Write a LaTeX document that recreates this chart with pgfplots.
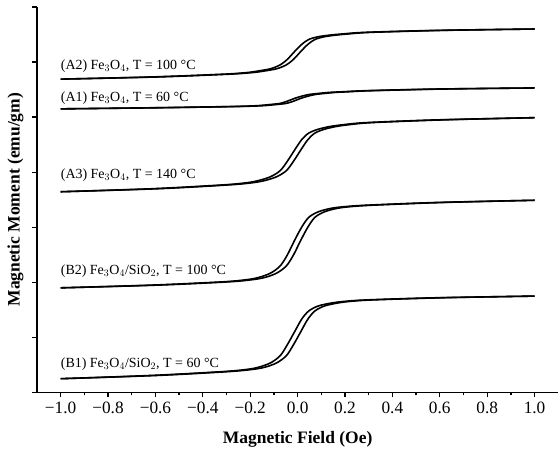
\documentclass[border=0pt]{standalone}
\usepackage{pgfplots}
\pgfplotsset{compat=1.18}
\usepackage{pgfplotstable}
\usepackage{fontspec}
\setmainfont{Liberation Serif}

\pgfplotstableread{
x      xu     xd     A2    A1    A3     B2    B1
-1.0  -1.0   -1.0    5.69  5.15  3.645  1.90  0.25
-0.6  -0.588 -0.612  5.73  5.17  3.70   1.95  0.31
-0.3  -0.288 -0.312  5.78  5.19  3.77   2.01  0.38
-0.2  -0.188 -0.212  5.81  5.20  3.81   2.05  0.42
-0.15 -0.137 -0.163  5.84  5.21  3.85   2.09  0.46
-0.1  -0.087 -0.113  5.88  5.23  3.92   2.17  0.54
-0.06 -0.047 -0.073  5.95  5.25  4.03   2.30  0.67
-0.03 -0.017 -0.043  6.05  5.29  4.20   2.50  0.87
0.0    0.013 -0.013  6.19  5.34  4.40   2.76  1.10
0.03   0.043  0.017  6.32  5.38  4.59   3.00  1.33
0.06   0.073  0.047  6.41  5.41  4.71   3.18  1.48
0.1    0.113  0.087  6.46  5.43  4.78   3.28  1.57
0.15   0.163  0.137  6.49  5.45  4.83   3.34  1.62
0.2    0.212  0.188  6.51  5.46  4.86   3.37  1.65
0.3    0.312  0.288  6.54  5.48  4.90   3.40  1.68
0.6    0.612  0.588  6.575 5.51  4.95   3.45  1.72
1.0    1.0    1.0    6.60  5.53  4.99   3.49  1.75
}\data

\tikzset{hyst/.style={black, solid, line width=1.6pt, smooth, tension=0.5, mark=none}}

\begin{document}
\begin{tikzpicture}
\begin{axis}[
  name=ax,
  scale only axis,
  width=522pt, height=386pt,
  xmin=-1.1, xmax=1.1,
  ymin=0, ymax=7,
  axis lines*=left,
  axis line style={line width=1.5pt},
  tick align=outside,
  tick style={black, line width=1.3pt},
  major tick length=5pt,
  minor tick length=3pt,
  xtick={-1,-0.8,-0.6,-0.4,-0.2,0,0.2,0.4,0.6,0.8,1},
  xticklabels={−1.0,−0.8,−0.6,−0.4,−0.2,0.0,0.2,0.4,0.6,0.8,1.0},
  minor xtick={-0.9,-0.7,-0.5,-0.3,-0.1,0.1,0.3,0.5,0.7,0.9},
  ytick={0,1,2,3,4,5,6,7},
  yticklabels={},
  ticklabel style={font=\fontsize{17.3}{20}\selectfont},
  xticklabel style={yshift=-1pt},
  xlabel={Magnetic Field (Oe)},
  ylabel={Magnetic Moment (emu/gm)},
  xlabel style={font=\fontsize{17.5}{20}\selectfont\bfseries, at={(axis description cs:0.5,-0.122)}, anchor=center},
  ylabel style={font=\fontsize{17.5}{20}\selectfont\bfseries, at={(axis description cs:-0.041,0.5)}, anchor=center},
  clip=false,
]
\addplot[hyst] table[x=xu, y=A2] {\data};
\addplot[hyst] table[x=xd, y=A2] {\data};
\addplot[hyst] table[x=xu, y=A1] {\data};
\addplot[hyst] table[x=xd, y=A1] {\data};
\addplot[hyst] table[x=xu, y=A3] {\data};
\addplot[hyst] table[x=xd, y=A3] {\data};
\addplot[hyst] table[x=xu, y=B2] {\data};
\addplot[hyst] table[x=xd, y=B2] {\data};
\addplot[hyst] table[x=xu, y=B1] {\data};
\addplot[hyst] table[x=xd, y=B1] {\data};

\begin{scope}[every node/.style={anchor=base west, inner sep=0pt, font=\fontsize{14}{16}\selectfont}]
\node at (axis cs:-1,5.86) {(A2) Fe$_3$O$_4$, T = 100 °C};
\node at (axis cs:-1,5.28) {(A1) Fe$_3$O$_4$, T = 60 °C};
\node at (axis cs:-1,3.88) {(A3) Fe$_3$O$_4$, T = 140 °C};
\node at (axis cs:-1,2.14) {(B2) Fe$_3$O$_4$/SiO$_2$, T = 100 °C};
\node at (axis cs:-1,0.46) {(B1) Fe$_3$O$_4$/SiO$_2$, T = 60 °C};
\end{scope}
\end{axis}
\path (ax.south west) ++(-37pt,-64pt) rectangle ++(559pt,457pt);
\end{tikzpicture}
\end{document}
